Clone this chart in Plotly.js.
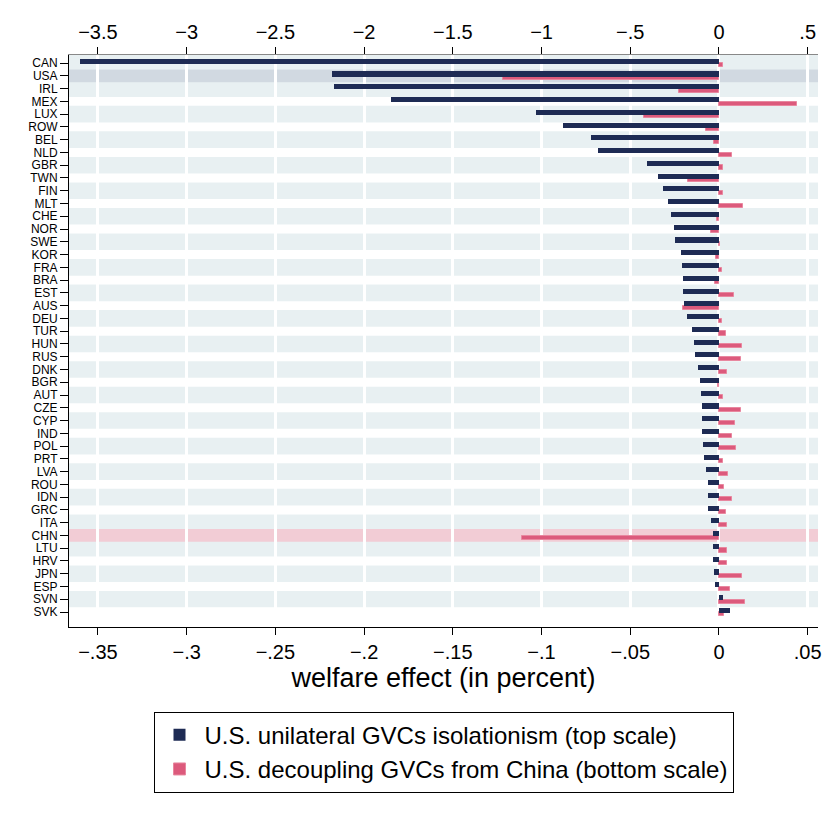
<!DOCTYPE html>
<html>
<head>
<meta charset="utf-8">
<script src="https://cdn.plot.ly/plotly-3.0.1.min.js"></script>
<style>body{margin:0;background:#fff}</style>
</head>
<body>
<div id="chart" style="width:826px;height:817px"></div>
<script>
var countries = ["CAN","USA","IRL","MEX","LUX","ROW","BEL","NLD","GBR","TWN","FIN","MLT","CHE","NOR","SWE","KOR","FRA","BRA","EST","AUS","DEU","TUR","HUN","RUS","DNK","BGR","AUT","CZE","CYP","IND","POL","PRT","LVA","ROU","IDN","GRC","ITA","CHN","LTU","HRV","JPN","ESP","SVN","SVK"];

// top scale: U.S. unilateral GVCs isolationism
var isolationism = [-3.60,-2.18,-2.17,-1.85,-1.03,-0.88,-0.72,-0.68,-0.405,-0.345,-0.315,-0.29,-0.27,-0.255,-0.248,-0.215,-0.21,-0.203,-0.203,-0.198,-0.18,-0.152,-0.14,-0.135,-0.118,-0.107,-0.101,-0.096,-0.096,-0.096,-0.09,-0.085,-0.073,-0.062,-0.062,-0.062,-0.045,-0.034,-0.034,-0.034,-0.028,-0.023,0.025,0.06];

// bottom scale: U.S. decoupling GVCs from China
var decoupling = [0.0025,-0.122,-0.0225,0.0438,-0.042,-0.0072,-0.003,0.0072,0.0025,-0.0175,0.002,0.0133,-0.001,-0.0047,0.0007,-0.0016,0.0015,-0.0024,0.0083,-0.0203,0.0015,0.0042,0.0127,0.0122,0.0047,-0.0008,0.0025,0.0122,0.0088,0.0075,0.0098,0.0025,0.0053,0.003,0.0075,0.0042,0.0047,-0.111,0.0043,0.0047,0.0127,0.0064,0.0149,0.0028];

var bottomTicks = [-0.35,-0.3,-0.25,-0.2,-0.15,-0.1,-0.05,0,0.05];
var bottomLabels = ["\u2212.35","\u2212.3","\u2212.25","\u2212.2","\u2212.15","\u2212.1","\u2212.05","0",".05"];
var topTicks = [-3.5,-3,-2.5,-2,-1.5,-1,-0.5,0,0.5];
var topLabels = ["\u22123.5","\u22123","\u22122.5","\u22122","\u22121.5","\u22121","\u2212.5","0",".5"];

var shapes = [];
countries.forEach(function(c, i) {
  var color = null, layer = 'below', y0 = i - 0.35, y1 = i + 0.35;
  if (c === 'USA') { color = '#d1d9e1'; layer = 'between'; y0 = i - 0.5; y1 = i + 0.5; }
  else if (c === 'CHN') { color = '#f2ccd5'; layer = 'between'; y0 = i - 0.5; y1 = i + 0.5; }
  else if (i % 2 === 1) { color = '#ffffff'; }
  if (color) {
    shapes.push({type:'rect', xref:'paper', yref:'y', x0:0, x1:1, y0:y0, y1:y1,
      fillcolor:color, line:{width:0}, layer:layer});
  }
});
// white strip below the last row
shapes.push({type:'rect', xref:'paper', yref:'y', x0:0, x1:1, y0:42.65, y1:44.2,
  fillcolor:'#ffffff', line:{width:0}, layer:'below'});

var traces = [
  {
    type:'bar', orientation:'h', y:countries, x:isolationism, xaxis:'x2', yaxis:'y',
    name:'U.S. unilateral GVCs isolationism (top scale)',
    marker:{color:'#1e2b54', line:{width:0}}, width:0.4, offset:-0.34
  },
  {
    type:'bar', orientation:'h', y:countries, x:decoupling, xaxis:'x', yaxis:'y',
    name:'U.S. decoupling GVCs from China (bottom scale)',
    marker:{color:'#dc5a7c', line:{color:'#e8879f', width:1}}, width:0.32, offset:0.02
  }
];

var fontFam = 'Liberation Sans, Arial, sans-serif';
var layout = {
  width:826, height:817,
  margin:{l:69, r:8, t:55, b:190},
  paper_bgcolor:'#ffffff', plot_bgcolor:'#e8f0f2',
  barmode:'overlay', bargap:0,
  font:{family:fontFam, color:'#000'},
  showlegend:true,
  legend:{orientation:'v', x:0.5, xanchor:'center', y:-0.148, yanchor:'top',
    bordercolor:'#000', borderwidth:1, font:{size:24}, traceorder:'normal',
    tracegroupgap:6, itemwidth:40},
  shapes:shapes,
  xaxis:{range:[-0.3663,0.0558], tickvals:bottomTicks, ticktext:bottomLabels,
    ticks:'outside', ticklen:7, tickcolor:'#000', showline:true, linecolor:'#000',
    gridcolor:'#ffffff', gridwidth:3, zeroline:false, tickfont:{size:20},
    title:{text:'welfare effect (in percent)', font:{size:27}, standoff:6}},
  xaxis2:{overlaying:'x', side:'top', range:[-3.663,0.558], tickvals:topTicks, ticktext:topLabels,
    ticks:'outside', ticklen:7, tickcolor:'#000', showline:true, linecolor:'#888',
    showgrid:false, zeroline:false, tickfont:{size:20}},
  yaxis:{type:'category', range:[44.17,-0.63], tickmode:'array', tickvals:countries, ticktext:countries,
    ticks:'outside', ticklen:8, tickcolor:'#000',
    showline:true, linecolor:'#000', showgrid:false, zeroline:false,
    tickfont:{size:12, family:'Liberation Sans Narrow, Liberation Sans, Arial'}}
};

Plotly.newPlot('chart', traces, layout, {displayModeBar:false});
</script>
</body>
</html>
